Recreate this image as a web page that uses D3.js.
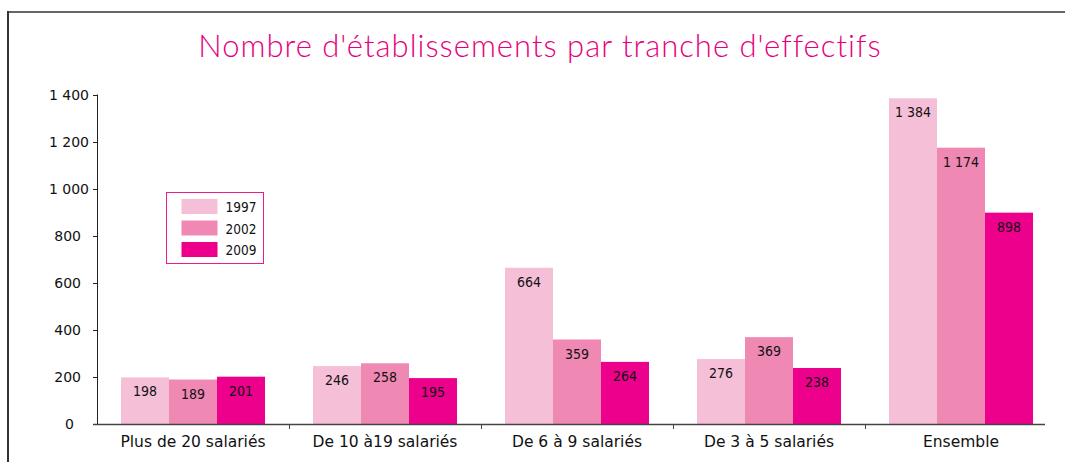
<!DOCTYPE html>
<html>
<head>
<meta charset="utf-8">
<script src="https://cdn.jsdelivr.net/npm/d3@7"></script>
<style>
  body { margin: 0; background: #fff; }
  svg { display: block; }
</style>
</head>
<body>
<div id="chart"></div>
<script>
// data
var categories = ['Plus de 20 salariés', 'De 10 à19 salariés', 'De 6 à 9 salariés', 'De 3 à 5 salariés', 'Ensemble'];
var years = ['1997', '2002', '2009'];
var v1997 = [198, 246, 664, 276, 1384];
var v2002 = [189, 258, 359, 369, 1174];
var v2009 = [201, 195, 264, 238, 898];
var yTicks = [0, 200, 400, 600, 800, 1000, 1200, 1400];
var colours = ['#f6bfd8', '#f088b4', '#ec008c'];

var series = [v1997, v2002, v2009];

var W = 1065, H = 462;
var svg = d3.select('#chart').append('svg')
    .attr('width', W)
    .attr('height', H);

// frame (top + left rules)
svg.append('line').attr('x1', 8).attr('x2', W).attr('y1', 12).attr('y2', 12)
    .attr('stroke', '#666').attr('stroke-width', 2);
svg.append('line').attr('x1', 8).attr('x2', 8).attr('y1', 11).attr('y2', H)
    .attr('stroke', '#333').attr('stroke-width', 2);

// title
svg.append('text')
    .text("Nombre d'établissements par tranche d'effectifs")
    .attr('x', 540).attr('y', 57)
    .attr('text-anchor', 'middle')
    .attr('fill', '#e6007e')
    .style('font-family', 'Lato, "DejaVu Sans", sans-serif')
    .style('font-weight', 300)
    .style('letter-spacing', '1px')
    .style('font-size', '31px');

//scales
var y = d3.scaleLinear().domain([0, 1400]).range([424, 94.5]);
var x0 = d3.scaleBand().domain(categories).range([97, 1057]).paddingInner(0).paddingOuter(0);
var x1 = d3.scaleBand().domain(years).range([0, x0.bandwidth()]).paddingInner(0).paddingOuter(0.5);
//scales

// bars
var groups = svg.selectAll('.cat')
    .data(categories)
    .enter().append('g')
    .attr('class', 'cat')
    .attr('transform', function(d) { return 'translate(' + x0(d) + ',0)'; });

groups.selectAll('rect')
    .data(function(d, i) { return years.map(function(yr, j) { return {yr: yr, j: j, v: series[j][i]}; }); })
    .enter().append('rect')
    .attr('x', function(d) { return x1(d.yr); })
    .attr('width', x1.bandwidth())
    .attr('y', function(d) { return y(d.v); })
    .attr('height', function(d) { return y(0) - y(d.v); })
    .attr('fill', function(d) { return colours[d.j]; });

var fmt = function(v) { return v >= 1000 ? Math.floor(v / 1000) + ' ' + d3.format('03d')(v % 1000) : String(v); };

groups.selectAll('.val')
    .data(function(d, i) { return years.map(function(yr, j) { return {yr: yr, j: j, v: series[j][i]}; }); })
    .enter().append('text')
    .attr('class', 'val')
    .text(function(d) { return fmt(d.v); })
    .attr('x', function(d) { return x1(d.yr) + x1.bandwidth() / 2; })
    .attr('y', function(d) { return y(d.v) + 19; })
    .attr('text-anchor', 'middle')
    .attr('fill', '#111')
    .style('font-family', '"DejaVu Sans Condensed", "DejaVu Sans", sans-serif')
    .style('font-stretch', 'condensed')
    .style('font-size', '14px');

// y axis
var yAxis = svg.append('g');
yAxis.append('line').attr('x1', 97.5).attr('x2', 97.5).attr('y1', y(1400)).attr('y2', y(0))
    .attr('stroke', '#222');
yAxis.selectAll('.yt').data(yTicks).enter().append('line')
    .attr('x1', 93).attr('x2', 97.5)
    .attr('y1', function(d) { return Math.round(y(d)) + 0.5; })
    .attr('y2', function(d) { return Math.round(y(d)) + 0.5; })
    .attr('stroke', '#222');
yAxis.selectAll('.yl').data(yTicks).enter().append('text')
    .text(function(d) { return fmt(d); })
    .attr('x', function(d) { return d >= 1000 ? 89 : (d === 0 ? 74 : 81); })
    .attr('y', function(d) { return y(d) + 5; })
    .attr('text-anchor', 'end')
    .attr('fill', '#111')
    .style('font-family', '"DejaVu Sans", sans-serif')
    .style('font-size', '14px');

// x axis
var xAxis = svg.append('g');
xAxis.append('line').attr('x1', 93).attr('x2', 1045).attr('y1', 424.5).attr('y2', 424.5)
    .attr('stroke', '#444').attr('stroke-width', 1.5);
xAxis.selectAll('.xt').data(categories.slice(1)).enter().append('line')
    .attr('x1', function(d) { return Math.round(x0(d)) + 0.5; })
    .attr('x2', function(d) { return Math.round(x0(d)) + 0.5; })
    .attr('y1', 424).attr('y2', 429)
    .attr('stroke', '#444');
xAxis.selectAll('.xl').data(categories).enter().append('text')
    .text(function(d) { return d; })
    .attr('x', function(d) { return x0(d) + x0.bandwidth() / 2; })
    .attr('y', 447)
    .attr('text-anchor', 'middle')
    .attr('fill', '#111')
    .style('font-family', '"DejaVu Sans", sans-serif')
    .style('font-size', '15.5px');

//legend
var legend = svg.append('g').attr('transform', 'translate(166.5,192.5)');
legend.append('rect').attr('width', 97).attr('height', 71)
    .attr('fill', '#fff').attr('stroke', '#ec1c8c').attr('stroke-width', 1);
var items = legend.selectAll('.li').data(years).enter().append('g')
    .attr('transform', function(d, i) { return 'translate(15,' + (6.5 + i * 21.5) + ')'; });
items.append('rect').attr('width', 36).attr('height', 15)
    .attr('fill', function(d, i) { return colours[i]; });
items.append('text').text(function(d) { return d; })
    .attr('x', 44).attr('y', 13)
    .attr('fill', '#111')
    .style('font-family', '"DejaVu Sans Condensed", "DejaVu Sans", sans-serif')
    .style('font-stretch', 'condensed')
    .style('font-size', '13.5px');
</script>
</body>
</html>
